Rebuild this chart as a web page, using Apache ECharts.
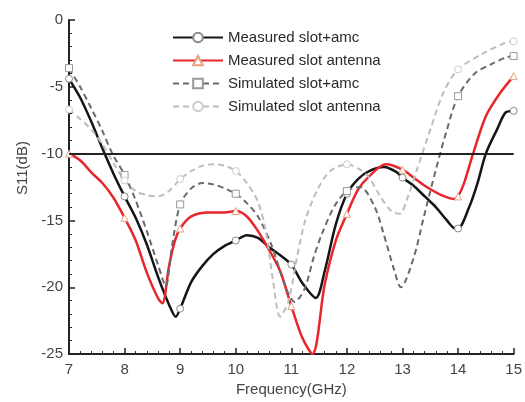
<!DOCTYPE html>
<html><head><meta charset="utf-8">
<script src="https://cdn.jsdelivr.net/npm/echarts@6/dist/echarts.min.js"></script>
<style>html,body{margin:0;padding:0;background:#fff}#c{width:525px;height:402px}</style>
</head><body><div id="c"></div>
<script>
const seriesNames = ['Measured slot+amc','Measured slot antenna','Simulated slot+amc','Simulated slot antenna'];
const xTicks = [7,8,9,10,11,12,13,14,15];
const yTicks = [0,-5,-10,-15,-20,-25];
const threshold = -10;

const measuredAmc = [[7,-4.4],[7.2,-5.8],[7.4,-7.6],[7.6,-9.6],[7.8,-11.5],[8,-13.2],[8.2,-14.8],[8.4,-16.8],[8.6,-19.2],[8.8,-21.3],[8.92,-22.2],[9,-21.6],[9.2,-19.6],[9.4,-18.4],[9.6,-17.5],[9.8,-16.9],[10,-16.5],[10.2,-16.1],[10.4,-16.3],[10.6,-17.0],[10.8,-17.6],[11,-18.3],[11.2,-19.7],[11.44,-20.8],[11.6,-18.8],[11.8,-15.3],[12,-13.0],[12.2,-11.9],[12.4,-11.3],[12.67,-11.0],[12.9,-11.4],[13,-11.8],[13.2,-12.4],[13.4,-13.2],[13.6,-14.0],[13.8,-15.0],[13.95,-15.6],[14,-15.6],[14.2,-14.0],[14.35,-12.2],[14.5,-10.0],[14.7,-8.2],[14.86,-6.9],[15,-6.8]];
const measuredSlot = [[7,-10.0],[7.2,-10.5],[7.4,-11.4],[7.6,-12.2],[7.8,-13.3],[8,-14.8],[8.2,-16.5],[8.4,-18.9],[8.6,-20.8],[8.68,-21.2],[8.8,-18.4],[8.9,-16.6],[9,-15.6],[9.2,-14.7],[9.5,-14.4],[9.8,-14.4],[10,-14.3],[10.2,-14.7],[10.4,-15.8],[10.6,-17.2],[10.8,-18.8],[11,-21.4],[11.2,-23.8],[11.38,-25.0],[11.6,-19.8],[11.8,-16.5],[12,-14.5],[12.2,-12.7],[12.4,-11.7],[12.7,-10.8],[13,-11.2],[13.2,-11.8],[13.4,-12.4],[13.7,-13.1],[13.95,-13.4],[14,-13.2],[14.1,-12.3],[14.27,-10.0],[14.5,-7.2],[14.75,-5.5],[15,-4.2]];
const simulatedAmc = [[7,-3.6],[7.2,-5.0],[7.4,-6.6],[7.6,-8.3],[7.78,-10.0],[8,-11.6],[8.2,-13.5],[8.4,-15.8],[8.6,-18.3],[8.74,-19.9],[8.85,-17.0],[9,-13.8],[9.2,-12.6],[9.4,-12.2],[9.6,-12.3],[9.8,-12.6],[10,-13.0],[10.2,-13.7],[10.4,-14.7],[10.64,-16.8],[10.9,-20.0],[11.06,-21.1],[11.24,-20.1],[11.4,-17.8],[11.55,-16.0],[11.78,-13.9],[12,-12.8],[12.24,-12.5],[12.5,-14.0],[12.66,-16.0],[12.85,-18.7],[12.97,-20.0],[13.2,-17.8],[13.38,-14.8],[13.6,-11.2],[13.8,-8.2],[14,-5.7],[14.3,-4.0],[14.6,-3.3],[14.86,-2.8],[15,-2.7]];
const simulatedSlot = [[7,-6.7],[7.2,-7.4],[7.4,-8.2],[7.6,-9.3],[7.8,-10.7],[8,-12.0],[8.2,-12.8],[8.4,-13.1],[8.6,-13.2],[8.8,-12.8],[9,-11.9],[9.2,-11.3],[9.4,-10.9],[9.6,-10.8],[9.8,-10.9],[10,-11.3],[10.2,-12.2],[10.4,-13.6],[10.55,-16.0],[10.67,-19.5],[10.8,-22.2],[10.95,-21.0],[11.1,-17.8],[11.25,-15.0],[11.47,-12.7],[11.7,-11.3],[12,-10.8],[12.2,-11.1],[12.4,-11.8],[12.6,-13.2],[12.8,-14.3],[12.95,-14.5],[13.1,-13.2],[13.26,-11.2],[13.5,-8.2],[13.74,-5.4],[14,-3.7],[14.45,-2.5],[14.86,-1.7],[15,-1.6]];

const FONT = 'Liberation Sans';
const chart = echarts.init(document.getElementById('c'), null, {renderer:'canvas'});
const symSize = v => (Number.isInteger(v[0]) ? 7 : 0);
function mk(name, data, color, width, type, symbol, markerBorder) {
  return {
    name, type:'line', data, smooth:0.3, showSymbol:true, showAllSymbol:true,
    symbol, symbolSize: symSize,
    lineStyle:{color, width, type},
    itemStyle:{color:'#fff', borderColor:markerBorder, borderWidth:1},
    emphasis:{disabled:true}, z: 3
  };
}
const series = [
  mk(seriesNames[0], measuredAmc, '#151515', 2.5, 'solid', 'circle', '#888'),
  mk(seriesNames[1], measuredSlot, '#e8262b', 2.5, 'solid', 'triangle', '#e9a080'),
  mk(seriesNames[2], simulatedAmc, '#6a6a6a', 2, [6,4], 'rect', '#999'),
  mk(seriesNames[3], simulatedSlot, '#bdbdbd', 2, [6,4], 'circle', '#ccc'),
];
series[0].markLine = {
  silent:true, symbol:'none', label:{show:false},
  lineStyle:{color:'#222', width:2, type:'solid'},
  data:[{yAxis: threshold}]
};
chart.setOption({
  animation:false,
  textStyle:{fontFamily:FONT},
  grid:{left:69, right:7, top:20, bottom:47},
  legend:{
    orient:'vertical', left:167, top:25, itemWidth:50, itemHeight:12, itemGap:8,
    textStyle:{fontFamily:FONT, fontSize:15, color:'#2a2a2a'},
    data: seriesNames
  },
  xAxis:{
    type:'value', min:xTicks[0], max:xTicks[xTicks.length-1], interval:1,
    name:'Frequency(GHz)', nameLocation:'middle', nameGap:23,
    nameTextStyle:{fontFamily:FONT, fontSize:15, color:'#444'},
    axisLine:{onZero:false, lineStyle:{color:'#222', width:2}},
    axisTick:{inside:true, length:6, lineStyle:{color:'#222', width:1.5}},
    minorTick:{show:true, splitNumber:5, length:3, lineStyle:{color:'#222'}},
    splitLine:{show:false},
    axisLabel:{fontFamily:FONT, fontSize:15, color:'#444', margin:8}
  },
  yAxis:{
    type:'value', min:yTicks[yTicks.length-1], max:yTicks[0], interval:5,
    name:'S11(dB)', nameLocation:'middle', nameGap:37,
    nameTextStyle:{fontFamily:FONT, fontSize:15, color:'#444', padding:[0,0,0,38]},
    axisLine:{onZero:false, lineStyle:{color:'#222', width:2}},
    axisTick:{inside:true, length:6, lineStyle:{color:'#222', width:1.5}},
    minorTick:{show:true, splitNumber:5, length:3, lineStyle:{color:'#222'}},
    splitLine:{show:false},
    axisLabel:{fontFamily:FONT, fontSize:15, color:'#444', margin:6}
  },
  series
});
</script></body></html>
